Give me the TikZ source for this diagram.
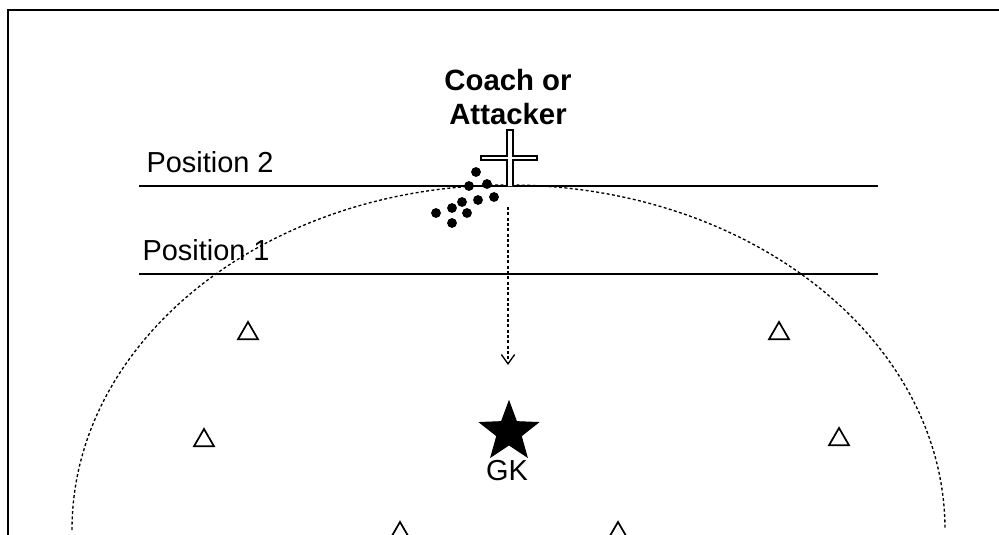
\documentclass[tikz,border=0pt]{standalone}
\usepackage{fontspec}
\setmainfont{Liberation Sans}
\usetikzlibrary{shapes.geometric}
\usetikzlibrary{arrows.meta}
\begin{document}
\begin{tikzpicture}[x=0.75pt, y=-0.75pt, thick,
  posn/.style = {font=\fontsize{21.7}{24}\selectfont, inner sep=0pt, anchor=west},
  coach/.style = {font=\fontsize{22}{25}\selectfont\bfseries, align=center, inner sep=0pt},
  cone/.style = {draw, regular polygon, regular polygon sides=3, minimum size=17.3pt, inner sep=0pt, line width=1.3pt},
  dot/.style = {draw, fill, circle, minimum size=6.5pt, inner sep=0pt},
  rule/.style = {line width=1pt},
  run/.style = {dash pattern=on 2.2pt off 1.8pt, line width=1pt}]
\useasboundingbox (0,0) rectangle (999,535);
% frame
\coordinate (TL) at (8,10);
\coordinate (TR) at (999,10);
\coordinate (BL) at (8,535);
\draw[rule] (BL) -- (TL) -- (TR);
% arc
\draw[run] (72,530) arc[start angle=180, end angle=360, x radius=436.5, y radius=345];
% position lines
\coordinate (A) at (139,186);
\coordinate (B) at (878,186);
\coordinate (C) at (139,274);
\coordinate (D) at (878,274);
\draw[rule] (A) -- (B);
\draw[rule] (C) -- (D);
\node[posn] (P2) at (146,162) {Position 2};
\node[posn] (P1) at (142,250) {Position 1};
\node[coach] (CA) at (508,97) {Coach or\\Attacker};
% cross
\draw[rule, fill=white] (507,186) -- (507,160) -- (481,160) -- (481,156) -- (507,156) -- (507,130)
  -- (513,130) -- (513,156) -- (537,156) -- (537,160) -- (513,160) -- (513,186);
% balls
\node[dot] (b1) at (476,172) {};
\node[dot] (b2) at (469,186) {};
\node[dot] (b3) at (487,184) {};
\node[dot] (b4) at (494,197) {};
\node[dot] (b5) at (478,200) {};
\node[dot] (b6) at (462,202) {};
\node[dot] (b7) at (452,208) {};
\node[dot] (b8) at (467,213) {};
\node[dot] (b9) at (436,213) {};
\node[dot] (b10) at (452,223) {};
% keeper
\node[draw, fill, star, star points=5, star point ratio=2.4, minimum size=46pt, inner sep=0pt] (S) at (509,432) {};
\node[font=\fontsize{21.7}{24}\selectfont, inner sep=0pt] (GK) at (507,471) {GK};
% arrow
\coordinate (E) at (508,207);
\coordinate (F) at (508,365);
\draw[run, -{Straight Barb[length=7pt, width=10pt]}] (E) -- (F);
% cones
\node[cone] (c1) at (248,333.5) {};
\node[cone] (c2) at (204,440.5) {};
\node[cone] (c3) at (779,333.5) {};
\node[cone] (c4) at (839,439.5) {};
\node[cone] (c5) at (400,533.5) {};
\node[cone] (c6) at (618,533.5) {};
\end{tikzpicture}
\end{document}
